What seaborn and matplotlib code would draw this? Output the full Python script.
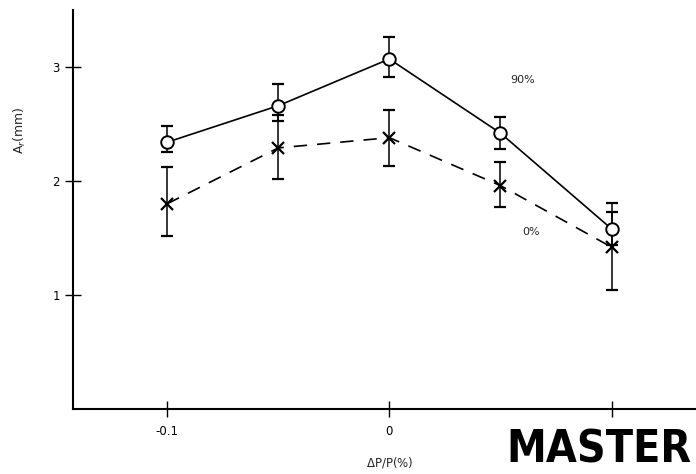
import numpy as np
import pandas as pd
import matplotlib
matplotlib.use("Agg")
import matplotlib.pyplot as plt
import seaborn as sns

# DATA
dp = [-0.1, -0.05, 0.0, 0.05, 0.1]            # delta P / P (%)
ar_90 = [2.34, 2.66, 3.07, 2.42, 1.58]        # 90 % curve, A_r (mm)
ar_90_lo = [0.09, 0.13, 0.16, 0.14, 0.14]
ar_90_hi = [0.14, 0.19, 0.19, 0.14, 0.15]
ar_0 = [1.80, 2.29, 2.38, 1.96, 1.42]         # 0 % curve
ar_0_lo = [0.28, 0.27, 0.25, 0.19, 0.38]
ar_0_hi = [0.32, 0.29, 0.24, 0.21, 0.39]
xticks = [-0.1, 0.0, 0.1]
xticklabels = ['-0.1', '0', '']
yticks = [1, 2, 3]

df90 = pd.DataFrame({'dp': dp, 'ar': ar_90})
df0 = pd.DataFrame({'dp': dp, 'ar': ar_0})

sns.set_theme(style='ticks')
plt.rcParams['font.family'] = ['DejaVu Sans']

fig = plt.figure(figsize=(6.96, 4.74), dpi=100)
ax = fig.add_axes([0.105, 0.137, 0.895, 0.842])

# error bars first, markers drawn on top
ax.errorbar(dp, ar_90, yerr=[ar_90_lo, ar_90_hi], fmt='none',
            ecolor='black', elinewidth=1.1, capsize=4, capthick=1.6, zorder=2)
ax.errorbar(dp, ar_0, yerr=[ar_0_lo, ar_0_hi], fmt='none',
            ecolor='black', elinewidth=1.1, capsize=4, capthick=1.6, zorder=2)

# 90% curve: open circles, solid line
sns.lineplot(data=df90, x='dp', y='ar', color='black', marker='o',
             markersize=9, markeredgewidth=1.4, markerfacecolor='white',
             markeredgecolor='black', linewidth=1.2, ax=ax, zorder=3)
# 0% curve: crosses, dashed line
sns.lineplot(data=df0, x='dp', y='ar', color='black', marker='x',
             markersize=9, markeredgewidth=1.6, markeredgecolor='black',
             linewidth=1.2, dashes=False, linestyle=(0, (8, 6)), ax=ax, zorder=3)

ax.text(0.060, 2.89, '90%', fontsize=8, ha='center', va='center')
ax.text(0.064, 1.55, '0%', fontsize=8, ha='center', va='center')

ax.set_xlim(-0.1423, 0.138)
ax.set_ylim(0, 3.5)
ax.set_xticks(xticks)
ax.set_xticklabels(xticklabels)
ax.set_yticks(yticks)
ax.tick_params(direction='inout', length=11, width=1.0, labelsize=8.5, colors='black')
ax.tick_params(axis='y', pad=4)
ax.tick_params(axis='x', pad=6)
sns.despine(ax=ax)
for s in ['left', 'bottom']:
    ax.spines[s].set_linewidth(1.5)
    ax.spines[s].set_color('black')

ax.set_xlabel(r'$\Delta$P/P(%)', fontsize=8.5)
ax.xaxis.set_label_coords(0.509, -0.115)
ax.set_ylabel(r'A$_r$(mm)', fontsize=9)
ax.yaxis.set_label_coords(-0.072, 0.70)

# stamp in the lower right of the scan
fig.text(0.728, 0.005, 'MASTER', fontsize=32, fontweight='bold',
         fontstretch='condensed', family=['DejaVu Sans'],
         ha='left', va='bottom', color='black')

fig.savefig('out.png', dpi=100)
